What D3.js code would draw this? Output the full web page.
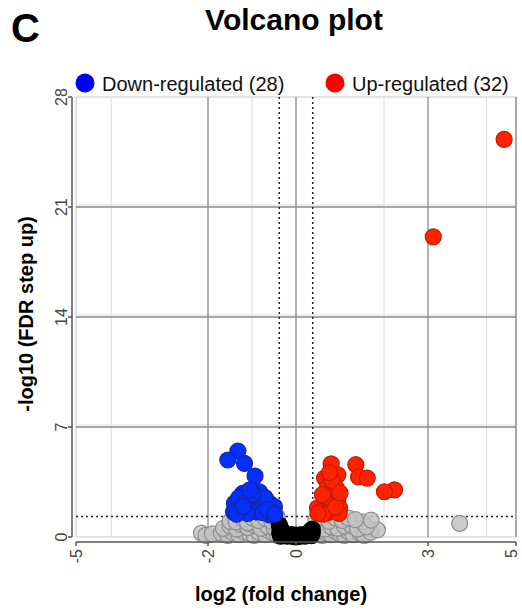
<!DOCTYPE html>
<html>
<head>
<meta charset="utf-8">
<script src="https://cdn.jsdelivr.net/npm/d3@7"></script>
<style>
  html, body { margin: 0; padding: 0; background: #fff; }
  #volcano { width: 522px; height: 613px; }
</style>
</head>
<body>
<div id="volcano"></div>
<script>
/* Values: [log2 fold change, -log10 FDR] */
const upRegulated = [
  [4.73, 25.3], [3.12, 19.1], [2.24, 3.0], [2.01, 2.88], [1.36, 4.6], [1.42, 3.82],
  [1.62, 3.75], [0.80, 4.65], [0.95, 3.95], [0.65, 3.75], [0.85, 3.4], [0.72, 3.2],
  [0.92, 3.1], [0.75, 2.85], [0.88, 2.6], [0.70, 2.4], [0.95, 2.3], [0.78, 2.1],
  [0.69, 2.14], [0.99, 1.85], [0.85, 1.75], [0.49, 1.85], [0.55, 1.62], [0.72, 1.55],
  [0.98, 1.5], [0.62, 1.45], [0.50, 1.5], [0.90, 1.9], [0.60, 2.7], [0.82, 3.6],
  [1.0, 2.8], [0.76, 4.1]
];
const downRegulated = [
  [-1.32, 5.47], [-1.55, 4.9], [-1.17, 4.69], [-0.93, 3.88], [-1.21, 2.78], [-0.83, 2.88],
  [-1.40, 2.14], [-1.06, 2.04], [-0.60, 2.14], [-0.49, 1.93], [-0.83, 1.83], [-0.60, 1.40],
  [-1.30, 2.5], [-0.95, 2.45], [-1.15, 2.2], [-0.70, 2.5], [-1.25, 1.75], [-1.42, 1.6],
  [-0.90, 1.6], [-1.10, 1.5], [-0.75, 1.55], [-0.55, 1.6], [-1.35, 1.45], [-0.98, 2.7],
  [-1.05, 3.0], [-0.65, 1.75], [-1.20, 1.95], [-0.48, 1.45]
];
const notSignificant = [
  [-2.15, 0.25], [-2.05, 0.1], [-1.9, 0.2], [-1.7, 0.25], [-1.55, 0.1], [-1.45, 0.3],
  [-1.3, 0.15], [-1.2, 0.35], [-1.05, 0.2], [-0.95, 0.1], [-0.85, 0.3], [-0.7, 0.15],
  [-0.6, 0.35], [-0.5, 0.2], [-0.42, 0.1], [0.42, 0.15], [0.5, 0.3], [0.6, 0.1],
  [0.7, 0.25], [0.8, 0.15], [0.9, 0.35], [1.0, 0.2], [1.1, 0.1], [1.2, 0.3],
  [1.3, 0.15], [1.45, 0.25], [1.55, 0.1], [1.7, 0.3], [1.85, 0.45],
  [-1.65, 0.55], [-1.5, 0.7], [-1.35, 0.5], [-1.25, 0.8], [-1.1, 0.6], [-0.95, 0.75],
  [-0.8, 0.55], [-0.65, 0.7], [-0.5, 0.6], [-0.45, 0.85], [0.45, 0.55], [0.55, 0.75],
  [0.65, 0.5], [0.8, 0.66], [0.95, 0.55], [1.1, 0.7], [1.25, 0.76], [1.4, 0.5],
  [1.5, 0.97], [1.6, 0.65], [1.71, 1.08], [-1.5, 1.0], [-1.36, 0.97], [-1.2, 1.15],
  [-1.1, 0.9], [-0.98, 1.2], [-0.85, 1.05], [-0.7, 1.2], [-0.55, 1.0], [-0.42, 1.25],
  [0.45, 1.1], [0.6, 1.25], [0.75, 1.0], [0.9, 1.2], [1.05, 1.05], [1.2, 1.2],
  [1.35, 1.1], [3.72, 0.87]
];
const smallChange = [
  [-0.38, 0.78], [-0.36, 0.6], [-0.33, 0.45], [-0.3, 0.3], [-0.25, 0.18], [-0.2, 0.05],
  [-0.12, 0.1], [-0.05, 0.02], [0, 0.08], [0.06, 0.03], [0.12, 0.12], [0.2, 0.06],
  [0.25, 0.2], [0.3, 0.32], [0.34, 0.42], [0.37, 0.5], [-0.35, 0.05], [0.35, 0.08],
  [-0.1, 0.15], [0.1, 0.14], [0.0, 0.12], [-0.37, 0.25], [0.37, 0.25]
];
const xTicks = [-5, -2, 0, 3, 5];
const xMinorGrid = [-4.2, -1, 2, 4.33];
const yTicks = [0, 7, 14, 21, 28];
const fcCutoff = [-0.38, 0.38];
const fdrCutoff = 1.3;
const legendItems = [
  { label: "Down-regulated (28)", color: "#0000ff" },
  { label: "Up-regulated (32)", color: "#ff0000" }
];

(function drawVolcano() {
  const W = 522, H = 613;
  const plot = { left: 76, right: 516, top: 97, bottom: 537 };
  const font = "Liberation Sans, Arial, Helvetica, sans-serif";
  const r = 8;

  const svg = d3.select("#volcano").append("svg")
    .attr("width", W).attr("height", H)
    .attr("font-family", font);

  const x = d3.scaleLinear().domain([-5, 5]).range([plot.left, plot.right]);
  const y = d3.scaleLinear().domain([0, 28]).range([plot.bottom, plot.top]);

  /* Panel letter and title */
  svg.append("text").attr("x", 11).attr("y", 42)
    .attr("font-size", "40px").attr("font-weight", "700").text("C");
  svg.append("text").attr("x", 294).attr("y", 30).attr("text-anchor", "middle")
    .attr("font-size", "30px").attr("font-weight", "700").text("Volcano plot");

  /* Frame and grid */
  svg.append("rect").attr("x", plot.left).attr("y", plot.top)
    .attr("width", plot.right - plot.left).attr("height", plot.bottom - plot.top)
    .attr("fill", "none").attr("stroke", "#c8c8c8").attr("stroke-width", 1);

  svg.selectAll("line.minor-x").data(xMinorGrid).join("line")
    .attr("class", "minor-x")
    .attr("x1", d => x(d)).attr("x2", d => x(d))
    .attr("y1", plot.top).attr("y2", plot.bottom)
    .attr("stroke", "#dcdcdc").attr("stroke-width", 1);

  const innerY = yTicks.slice(1, -1);
  svg.selectAll("line.soft-y").data(innerY).join("line")
    .attr("class", "soft-y")
    .attr("x1", plot.left).attr("x2", plot.right)
    .attr("y1", d => y(d) - 2).attr("y2", d => y(d) - 2)
    .attr("stroke", "#dedede").attr("stroke-width", 1);
  svg.selectAll("line.major-y").data(innerY).join("line")
    .attr("class", "major-y")
    .attr("x1", plot.left).attr("x2", plot.right)
    .attr("y1", d => y(d)).attr("y2", d => y(d))
    .attr("stroke", "#8a8a8a").attr("stroke-width", 1.3);
  svg.selectAll("line.major-x").data(xTicks.slice(1, -1)).join("line")
    .attr("class", "major-x")
    .attr("x1", d => x(d)).attr("x2", d => x(d))
    .attr("y1", plot.top).attr("y2", plot.bottom)
    .attr("stroke", "#8a8a8a").attr("stroke-width", 1.3);
  svg.append("line")
    .attr("x1", plot.right).attr("x2", plot.right)
    .attr("y1", plot.top).attr("y2", plot.bottom)
    .attr("stroke", "#8a8a8a").attr("stroke-width", 1.3);

  /* Threshold lines */
  svg.append("line")
    .attr("x1", plot.left).attr("x2", plot.right)
    .attr("y1", y(fdrCutoff)).attr("y2", y(fdrCutoff))
    .attr("stroke", "#222").attr("stroke-width", 1.5).attr("stroke-dasharray", "2,3");
  svg.selectAll("line.fc-cut").data(fcCutoff).join("line")
    .attr("class", "fc-cut")
    .attr("x1", d => x(d)).attr("x2", d => x(d))
    .attr("y1", plot.top).attr("y2", plot.bottom)
    .attr("stroke", "#222").attr("stroke-width", 1.5).attr("stroke-dasharray", "2,3");

  /* Points */
  function dots(data, fill, stroke, opacity) {
    svg.append("g").selectAll("circle").data(data).join("circle")
      .attr("cx", d => x(d[0])).attr("cy", d => y(d[1])).attr("r", r)
      .attr("fill", fill).attr("fill-opacity", opacity)
      .attr("stroke", stroke).attr("stroke-width", 1.2);
  }
  dots(notSignificant, "#c2c2c2", "#8e8e8e", 0.85);
  dots(smallChange, "#000", "#000", 1);
  dots(downRegulated, "#0530f8", "#1a24a8", 1);
  dots(upRegulated, "#ff2200", "#c41a00", 1);

  /* Y axis, offset left of the frame */
  const yAxis = svg.append("g").attr("transform", `translate(${plot.left - 4},0)`);
  yAxis.append("line").attr("y1", plot.top).attr("y2", plot.bottom)
    .attr("stroke", "#555").attr("stroke-width", 1.5);
  yAxis.selectAll("line.tick").data(yTicks).join("line")
    .attr("class", "tick")
    .attr("x1", -4).attr("x2", 0).attr("y1", d => y(d)).attr("y2", d => y(d))
    .attr("stroke", "#555").attr("stroke-width", 1.5);
  yAxis.selectAll("text").data(yTicks).join("text")
    .attr("transform", d => `translate(-5,${y(d)}) rotate(-90)`)
    .attr("text-anchor", "middle")
    .attr("font-size", "16px").attr("fill", "#444")
    .text(d => d);

  /* X axis, offset below the frame; last label nudged in so it stays on the page */
  const xAxis = svg.append("g").attr("transform", `translate(0,${plot.bottom + 5})`);
  xAxis.append("line").attr("x1", plot.left).attr("x2", plot.right)
    .attr("stroke", "#555").attr("stroke-width", 1.5);
  xAxis.selectAll("line.tick").data(xTicks).join("line")
    .attr("class", "tick")
    .attr("x1", d => x(d)).attr("x2", d => x(d)).attr("y1", 0).attr("y2", 4)
    .attr("stroke", "#555").attr("stroke-width", 1.5);
  xAxis.selectAll("text").data(xTicks).join("text")
    .attr("transform", d => `translate(${Math.min(x(d), W - 11)},7) rotate(-90)`)
    .attr("text-anchor", "end").attr("dy", "0.35em")
    .attr("font-size", "16px").attr("fill", "#444")
    .text(d => d);

  /* Axis titles */
  svg.append("text")
    .attr("transform", "translate(33,314) rotate(-90)")
    .attr("text-anchor", "middle")
    .attr("font-size", "20px").attr("font-weight", "700")
    .text("-log10 (FDR step up)");
  svg.append("text").attr("x", 281).attr("y", 601)
    .attr("text-anchor", "middle")
    .attr("font-size", "20px").attr("font-weight", "700")
    .text("log2 (fold change)");

  /* Legend */
  const legendX = [85, 335];
  const lg = svg.append("g").selectAll("g").data(legendItems).join("g")
    .attr("transform", (d, i) => `translate(${legendX[i]},83)`);
  lg.append("circle").attr("r", 9.5).attr("fill", d => d.color);
  lg.append("text").attr("x", 17).attr("y", 8)
    .attr("font-size", "20px").attr("fill", "#111")
    .text(d => d.label);
})();
</script>
</body>
</html>
